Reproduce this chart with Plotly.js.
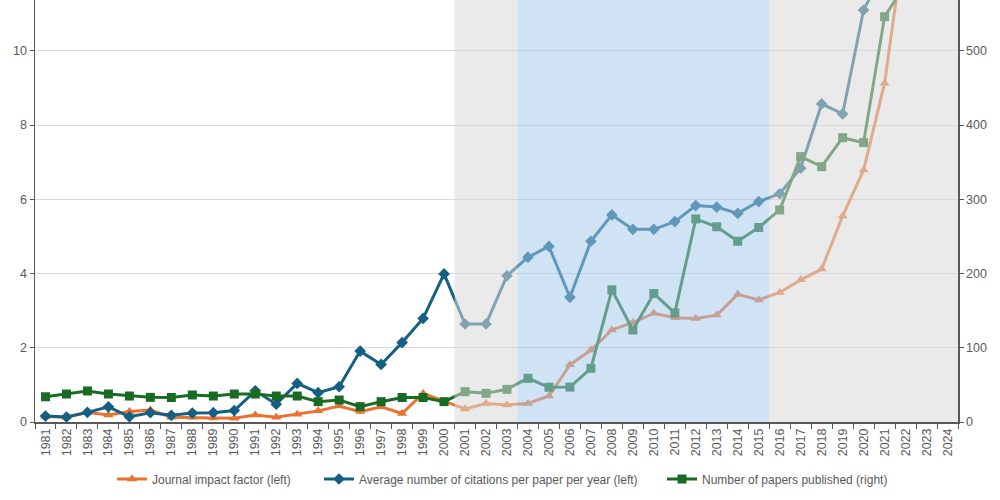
<!DOCTYPE html>
<html>
<head>
<meta charset="utf-8">
<script src="https://cdn.plot.ly/plotly-3.0.1.min.js"></script>
<style>html,body{margin:0;padding:0;background:#fff;}#chart{width:1000px;height:500px;}</style>
</head>
<body>
<div id="chart"></div>
<script>
const years = ["1981","1982","1983","1984","1985","1986","1987","1988","1989","1990","1991","1992","1993","1994","1995","1996","1997","1998","1999","2000","2001","2002","2003","2004","2005","2006","2007","2008","2009","2010","2011","2012","2013","2014","2015","2016","2017","2018","2019","2020","2021","2022","2023","2024"];

const impactFactor = [0.15,0.13,0.26,0.19,0.28,0.32,0.13,0.13,0.11,0.10,0.19,0.13,0.21,0.30,0.43,0.28,0.41,0.23,0.77,0.55,0.35,0.50,0.46,0.50,0.70,1.54,1.94,2.48,2.68,2.93,2.81,2.79,2.88,3.44,3.29,3.49,3.83,4.12,5.55,6.79,9.13,13.2,null,null];

const citations = [0.16,0.135,0.26,0.41,0.14,0.25,0.18,0.24,0.25,0.31,0.84,0.48,1.04,0.79,0.95,1.91,1.55,2.14,2.79,3.99,2.64,2.64,3.94,4.44,4.73,3.36,4.87,5.58,5.19,5.19,5.40,5.83,5.79,5.62,5.94,6.15,6.84,8.57,8.30,11.1,12.2,null,null,null];

const papers = [34,37.7,41.8,37.7,35,33.2,33,36.4,35,37.7,37.7,35,35,27.4,29.6,20.7,27.4,33,33,27.4,40.9,38.6,44,58.9,46.8,47,72.3,178,124,173,147,273.6,263,243.5,262,285.7,357.5,344,383,376.4,546,590,null,null];

const traces = [
  {x: years, y: impactFactor, name: "Journal impact factor (left)", type: "scatter", mode: "lines+markers", legend: "legend",
   line: {color: "#E97132", width: 3}, marker: {symbol: "triangle-up", size: 9, color: "#E97132"}, yaxis: "y"},
  {x: years, y: citations, name: "Average number of citations per paper per year (left)", type: "scatter", mode: "lines+markers", legend: "legend2",
   line: {color: "#156082", width: 3}, marker: {symbol: "diamond", size: 9, color: "#156082"}, yaxis: "y"},
  {x: years, y: papers, name: "Number of papers published (right)", type: "scatter", mode: "lines+markers", legend: "legend3",
   line: {color: "#196B24", width: 3}, marker: {symbol: "square", size: 9, color: "#196B24"}, yaxis: "y2"}
];

const gray = "rgba(217,217,217,0.55)";
const blue = "rgba(166,202,236,0.53)";

function leg(x) {
  return {orientation: "h", x: x, xanchor: "left", xref: "container", yref: "container", y: 0.042, yanchor: "middle",
          font: {size: 12, color: "#595959"}, bgcolor: "rgba(0,0,0,0)"};
}

const layout = {
  width: 1000, height: 500,
  margin: {l: 35, r: 42, t: 0, b: 78, autoexpand: false},
  paper_bgcolor: "#fff", plot_bgcolor: "#fff",
  font: {family: "Liberation Sans, Arial, sans-serif", size: 12, color: "#595959"},
  showlegend: true,
  legend: leg(0.112),
  legend2: leg(0.319),
  legend3: leg(0.662),
  xaxis: {type: "category", range: [-0.5, 43.5], tickangle: -90, tickson: "boundaries", automargin: false,
          ticks: "outside", ticklen: 5, tickcolor: "#595959", showline: true, linecolor: "#595959",
          linewidth: 1.5, showgrid: false, tickfont: {size: 12.5, color: "#595959"}},
  yaxis: {range: [0, 11.37], dtick: 2, tick0: 0, showline: true, linecolor: "#595959", linewidth: 1.5, automargin: false,
          ticks: "outside", ticklen: 4, tickcolor: "#595959", gridcolor: "#D9D9D9", gridwidth: 1,
          zeroline: false, tickfont: {size: 12.5, color: "#595959"}},
  yaxis2: {range: [0, 568.5], dtick: 100, tick0: 0, overlaying: "y", side: "right", showline: true, automargin: false,
           linecolor: "#595959", linewidth: 1.5, ticks: "outside", ticklen: 4, tickcolor: "#595959",
           showgrid: false, zeroline: false, tickfont: {size: 12.5, color: "#595959"}},
  shapes: [
    {type: "rect", xref: "x", yref: "paper", x0: 19.5, x1: 22.5, y0: 0, y1: 1, fillcolor: gray, line: {width: 0}, layer: "above"},
    {type: "rect", xref: "x", yref: "paper", x0: 22.5, x1: 34.5, y0: 0, y1: 1, fillcolor: blue, line: {width: 0}, layer: "above"},
    {type: "rect", xref: "x", yref: "paper", x0: 34.5, x1: 43.5, y0: 0, y1: 1, fillcolor: gray, line: {width: 0}, layer: "above"}
  ]
};

Plotly.newPlot("chart", traces, layout, {displayModeBar: false, staticPlot: true});
</script>
</body>
</html>
